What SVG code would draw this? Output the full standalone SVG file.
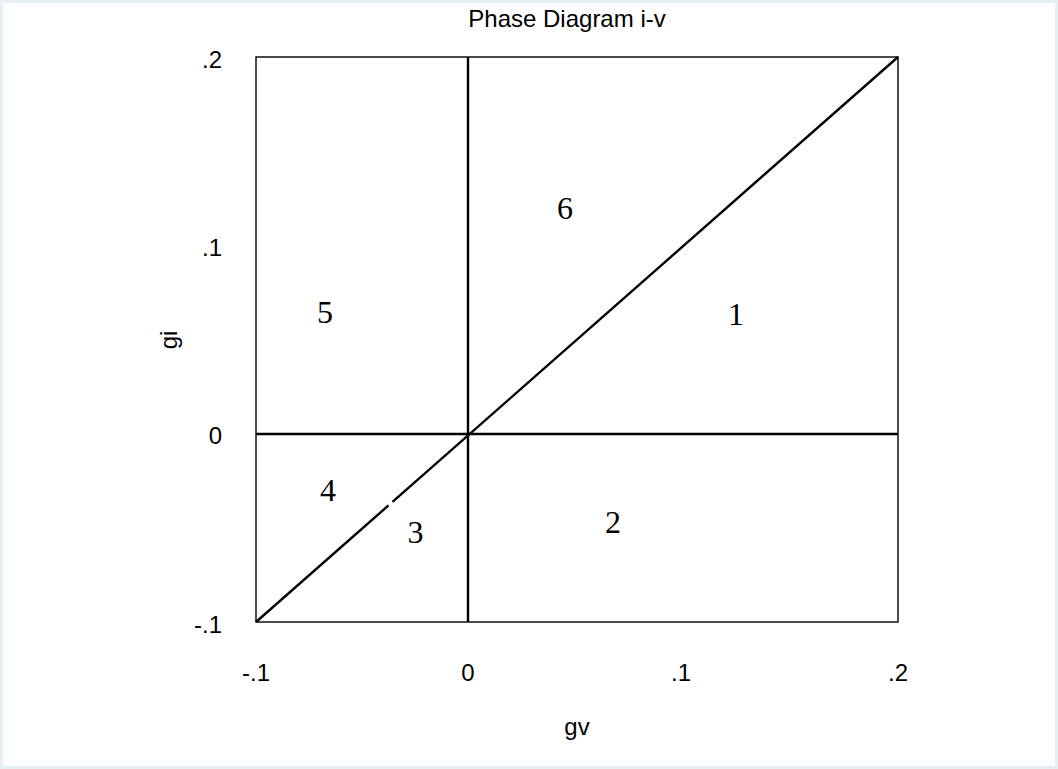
<svg xmlns="http://www.w3.org/2000/svg" width="1058" height="769" viewBox="0 0 1058 769">
<style>
.sans{font-family:"Liberation Sans",Arial,sans-serif;fill:#000}
.tick{font-size:24px}
.num{font-family:"Liberation Serif","Times New Roman",serif;font-size:32px;fill:#000;text-anchor:middle}
.ax{stroke:#000;stroke-width:2.4;fill:none}
</style>
<rect x="1.5" y="1.5" width="1055" height="766" fill="#fff" stroke="#e6eff1" stroke-width="3"/>
<text class="sans" x="567" y="27" font-size="24" text-anchor="middle">Phase Diagram i-v</text>
<g id="frame"><rect x="256" y="57" width="642" height="565" fill="none" stroke="#000" stroke-width="1.4"/></g>
<g id="connectors">
<line class="ax" x1="468" y1="57" x2="468" y2="622"/>
<line class="ax" x1="256" y1="434" x2="898" y2="434"/>
<line class="ax" x1="256" y1="622" x2="388.5" y2="505.4"/>
<line class="ax" x1="392.5" y1="501.9" x2="898" y2="57"/>
</g>
<g id="yticks" class="sans tick" text-anchor="end">
<text x="222" y="68">.2</text>
<text x="222" y="256">.1</text>
<text x="222" y="444">0</text>
<text x="222" y="633">-.1</text>
</g>
<g id="xticks" class="sans tick" text-anchor="middle">
<text x="256" y="681">-.1</text>
<text x="468" y="681">0</text>
<text x="681" y="681">.1</text>
<text x="898" y="681">.2</text>
</g>
<text class="sans tick" x="577" y="735" text-anchor="middle">gv</text>
<text class="sans tick" transform="translate(177,340) rotate(-90)" text-anchor="middle">gi</text>
<g id="region1"><text class="num" x="736" y="325">1</text></g>
<g id="region2"><text class="num" x="613" y="533">2</text></g>
<g id="region3"><text class="num" x="415.5" y="543">3</text></g>
<g id="region4"><text class="num" x="328" y="501">4</text></g>
<g id="region5"><text class="num" x="325" y="323">5</text></g>
<g id="region6"><text class="num" x="565" y="219">6</text></g>
</svg>
